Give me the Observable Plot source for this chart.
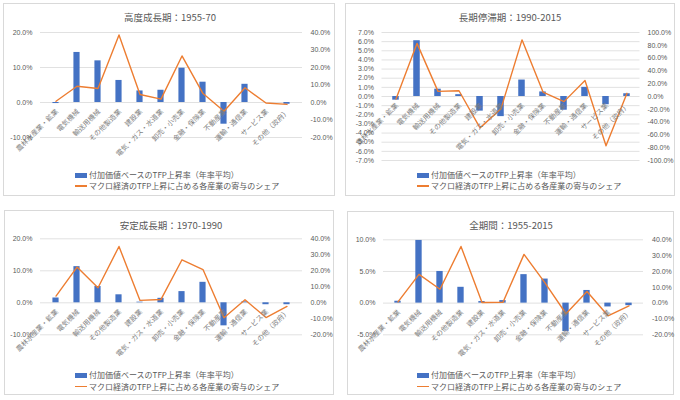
<!DOCTYPE html>
<html><head><meta charset="utf-8">
<script src="https://cdn.jsdelivr.net/npm/d3@7"></script>
<script src="https://cdn.jsdelivr.net/npm/@observablehq/plot@0.6"></script>
<style>
body{margin:0;background:#fff;width:680px;height:400px;position:relative;overflow:hidden;font-family:"Noto Sans CJK JP","Noto Sans",sans-serif;}
.panel{position:absolute;box-sizing:border-box;border:1px solid #d9d9d9;background:#fff;}
.panel svg{position:absolute;left:0;top:0;overflow:visible;}
.title{position:absolute;transform:translate(-50%,-50%);font-size:9.5px;color:#595959;white-space:nowrap;}
.leg{position:absolute;font-size:8px;color:#595959;white-space:nowrap;display:flex;align-items:center;transform:translateY(-50%);line-height:1;}
.sw{display:inline-block;width:12px;margin-right:2px;}
</style></head><body>
<script>
const categories = ["農林水産業・鉱業","電気機械","輸送用機械","その他製造業","建設業","電気・ガス・水道業","卸売・小売業","金融・保険業","不動産業","運輸・通信業","サービス業","その他（政府）"];
const seriesNames = ["付加価値ベースのTFP上昇率（年率平均）","マクロ経済のTFP上昇に占める各産業の寄与のシェア"];
const titles = ["高度成長期：1955-70","長期停滞期：1990-2015","安定成長期：1970-1990","全期間：1955-2015"];

// TFP growth (%), left axis
const tfp1 = [-0.3,14.3,11.9,6.3,3.3,3.5,9.8,5.8,-6.2,5.2,0.0,-0.5];
const tfp2 = [-0.4,6.1,0.8,0.2,-1.6,-2.2,1.8,0.5,-1.5,1.0,-0.9,0.3];
const tfp3 = [1.5,11.3,5.1,2.5,0.2,1.4,3.5,6.4,-7.2,0.3,-0.6,-0.6];
const tfp4 = [0.3,9.9,5.0,2.5,0.25,0.4,4.5,3.8,-4.5,2.0,-0.6,-0.4];
// contribution share (%), right axis
const share1 = [0.7,9.3,8.0,38.6,4.6,1.9,26.6,5.1,-5.0,8.4,-0.3,-1.1];
const share2 = [-4,83,8,9,-49,-19,88.5,7,-8,25,-77,5];
const share3 = [4.2,22.3,9.4,35.2,1.5,2.1,26.9,20.8,-9.4,1.9,-9.2,-2.3];
const share4 = [0.8,18.2,8.8,35.8,0.4,0.6,30.8,12.8,-6.7,7.3,-8.0,-1.7];

// axis ticks
const leftTicks1 = [-10,0,10,20];
const leftTicks2 = [-7,-6,-5,-4,-3,-2,-1,0,1,2,3,4,5,6,7];
const leftTicks3 = [-10,0,10,20];
const leftTicks4 = [-5,0,5,10];
const rightTicks1 = [-20,-10,0,10,20,30,40];
const rightTicks2 = [-100,-80,-60,-40,-20,0,20,40,60,80,100];
const rightTicks3 = [-20,-10,0,10,20,30,40];
const rightTicks4 = [-20,-10,0,10,20,30,40];

const fmt = v => (Math.round(v*10)/10 + 0).toFixed(1) + "%";

const panels = [
  {title:titles[0], tfp:tfp1, share:share1, lt:leftTicks1, rt:rightTicks1, box:[3,3,332,193], plot:[40,302,32,137], svgH:165, titleAt:[166,13], legAt:[71,171,182], rPad:8},
  {title:titles[1], tfp:tfp2, share:share2, lt:leftTicks2, rt:rightTicks2, box:[345,3,330,193], plot:[381.5,639.5,32,160], svgH:170, titleAt:[164,13], legAt:[71,171,182], rPad:7.5},
  {title:titles[2], tfp:tfp3, share:share3, lt:leftTicks3, rt:rightTicks3, box:[4,210,330,185], plot:[40,302,238.3,334.3], svgH:160, titleAt:[166,14], legAt:[70,164,175.5], rPad:8},
  {title:titles[3], tfp:tfp4, share:share4, lt:leftTicks4, rt:rightTicks4, box:[347,211,327,184], plot:[383,643,239.3,334.3], svgH:160, titleAt:[163,13], legAt:[69,163,174.5], rPad:8.5}
];

for (const p of panels) {
  const [bl,bt,bw,bh] = p.box;
  const [x0,x1,y0,y1] = p.plot;
  const div = document.createElement("div");
  div.className = "panel";
  Object.assign(div.style,{left:bl+"px",top:bt+"px",width:bw+"px",height:bh+"px"});
  document.body.appendChild(div);
  const L = [p.lt[0], p.lt[p.lt.length-1]];
  const R = [p.rt[0], p.rt[p.rt.length-1]];
  const k = (L[1]-L[0])/(R[1]-R[0]);
  const data = categories.map((c,i)=>({cat:c, tfp:p.tfp[i], share:p.share[i]}));
  const step = (x1-x0)/categories.length;
  const inset = (step-7)/2;
  const ox = bl+1, oy = bt+1;
  const svg = Plot.plot({
    width: bw-2, height: p.svgH,
    marginLeft: x0-ox, marginRight: (ox+bw-2)-x1, marginTop: y0-oy, marginBottom: p.svgH-(y1-oy),
    style:{fontFamily:'"Liberation Sans","Noto Sans CJK JP",sans-serif', fontSize:"7px", color:"#595959", background:"transparent", overflow:"visible"},
    x:{domain:categories, padding:0, axis:null},
    y:{domain:L, axis:null},
    marks:[
      Plot.ruleY(p.lt,{stroke:"#d9d9d9", strokeWidth:0.8}),
      Plot.barY(data,{x:"cat", y:"tfp", fill:"#4472c4", insetLeft:inset, insetRight:inset}),
      Plot.line(data,{x:"cat", y:d=>d.share*k, stroke:"#ed7d31", strokeWidth:1.4}),
      Plot.text(data,{x:"cat", y:0, text:"cat", rotate:-45, textAnchor:"end", dx:1, dy:8, fontSize:7, fill:"#7f7f7f", fontFamily:"Noto Sans CJK JP"}),
      Plot.axisY(p.lt,{anchor:"left", tickSize:0, tickPadding:8, tickFormat:fmt, label:null, fill:"#595959"}),
      Plot.axisY(p.rt.map(t=>t*k),{anchor:"right", tickSize:0, tickPadding:p.rPad, tickFormat:d=>fmt(d/k), label:null, fill:"#595959"})
    ]
  });
  div.appendChild(svg);
  const t = document.createElement("div");
  t.className = "title"; t.textContent = p.title;
  Object.assign(t.style,{left:p.titleAt[0]+"px", top:p.titleAt[1]+"px"});
  div.appendChild(t);
  const mk = (y, sw, txt) => {
    const l = document.createElement("div");
    l.className = "leg";
    Object.assign(l.style,{left:p.legAt[0]+"px", top:y+"px"});
    const s = document.createElement("span");
    s.className = "sw";
    Object.assign(s.style, sw);
    l.appendChild(s);
    l.appendChild(document.createTextNode(txt));
    div.appendChild(l);
  };
  mk(p.legAt[1], {height:"5px", background:"#4472c4"}, seriesNames[0]);
  mk(p.legAt[2], {height:"1.5px", background:"#ed7d31"}, seriesNames[1]);
}
</script>
</body></html>
